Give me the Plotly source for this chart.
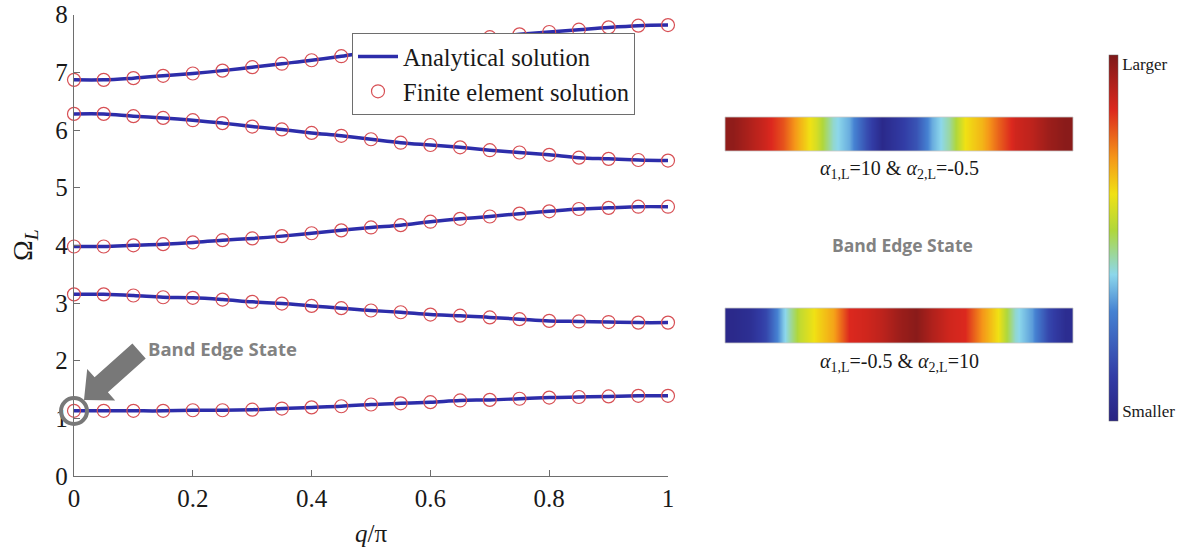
import plotly.graph_objects as go

W, H = 1187, 550

# ---------------- data ----------------
q = [0.0, 0.05, 0.1, 0.15, 0.2, 0.25, 0.3, 0.35, 0.4, 0.45, 0.5,
     0.55, 0.6, 0.65, 0.7, 0.75, 0.8, 0.85, 0.9, 0.95, 1.0]

band1 = [1.13, 1.13, 1.13, 1.13, 1.14, 1.14, 1.15, 1.17, 1.19, 1.21, 1.24,
         1.26, 1.28, 1.31, 1.32, 1.34, 1.36, 1.37, 1.38, 1.39, 1.39]
band2 = [3.15, 3.15, 3.13, 3.10, 3.09, 3.06, 3.02, 2.99, 2.95, 2.91, 2.87,
         2.84, 2.80, 2.78, 2.75, 2.72, 2.69, 2.68, 2.67, 2.66, 2.66]
band3 = [3.98, 3.98, 4.00, 4.02, 4.05, 4.09, 4.12, 4.16, 4.21, 4.26, 4.31,
         4.35, 4.41, 4.46, 4.50, 4.55, 4.59, 4.63, 4.65, 4.67, 4.67]
band4 = [6.28, 6.28, 6.24, 6.21, 6.17, 6.12, 6.06, 6.01, 5.95, 5.90, 5.84,
         5.78, 5.74, 5.70, 5.65, 5.61, 5.57, 5.52, 5.50, 5.48, 5.47]
band5 = [6.87, 6.87, 6.90, 6.94, 6.98, 7.03, 7.09, 7.15, 7.21, 7.28, 7.36,
         7.43, 7.50, 7.56, 7.61, 7.66, 7.70, 7.74, 7.78, 7.81, 7.82]
bands = [band1, band2, band3, band4, band5]

x_ticks = [0, 0.2, 0.4, 0.6, 0.8, 1]
x_tick_labels = ["0", "0.2", "0.4", "0.6", "0.8", "1"]
y_ticks = [0, 1, 2, 3, 4, 5, 6, 7, 8]
y_tick_labels = ["0", "1", "2", "3", "4", "5", "6", "7", "8"]

# normalised field amplitude along the unit cell
mode_a = [0.97, 0.92, 0.87, 0.80, 0.68, 0.58, 0.42, 0.35, 0.17, 0.03, 0.10,
          0.18, 0.35, 0.45, 0.62, 0.68, 0.78, 0.87, 0.90, 0.95, 0.98]
mode_b = [0.03, 0.06, 0.15, 0.38, 0.55, 0.63, 0.70, 0.85, 0.87, 0.90, 0.95,
          0.98, 0.92, 0.87, 0.85, 0.72, 0.62, 0.42, 0.33, 0.15, 0.05]
mode_pos = list(range(len(mode_a)))

jet = [[0.0, "rgb(40,35,130)"], [0.12, "rgb(50,60,165)"],
       [0.30, "rgb(70,130,210)"], [0.40, "rgb(140,215,235)"],
       [0.52, "rgb(175,215,60)"], [0.62, "rgb(240,225,20)"],
       [0.72, "rgb(245,150,25)"], [0.85, "rgb(220,40,30)"],
       [1.0, "rgb(125,25,25)"]]

SERIF = "Liberation Serif"
SANS = "Open Sans"
GRAY = "rgb(120,120,120)"
INK = "rgb(25,25,25)"

def px(x):
    return x / W

def py(y):
    return 1 - y / H

fig = go.Figure()

# analytical lines
for i, b in enumerate(bands):
    fig.add_trace(go.Scatter(
        x=q, y=b, mode="lines", line=dict(color="rgb(45,45,170)", width=3.5, shape="spline"),
        name="Analytical solution", legendgroup="a", showlegend=(i == 0),
        cliponaxis=False, xaxis="x", yaxis="y"))
# finite element markers
for i, b in enumerate(bands):
    fig.add_trace(go.Scatter(
        x=q, y=b, mode="markers",
        marker=dict(symbol="circle-open", size=13, color="rgb(215,80,85)", line=dict(width=1.2)),
        name="Finite element solution", legendgroup="f", showlegend=(i == 0),
        cliponaxis=False, xaxis="x", yaxis="y"))

# colour bars (mode shapes)
fig.add_trace(go.Heatmap(
    z=[mode_a, mode_a], x=mode_pos, zsmooth="best", colorscale=jet, zmin=0, zmax=1,
    xaxis="x2", yaxis="y2", showscale=True,
    colorbar=dict(x=px(1109), xanchor="left", y=py(237.5), yanchor="middle",
                  xpad=0, ypad=0,
                  len=366, lenmode="pixels", thickness=9, thicknessmode="pixels",
                  outlinewidth=0.5, outlinecolor="rgb(100,100,100)",
                  tickvals=[0.975, 0.025], ticktext=["Larger", "Smaller"],
                  ticks="", tickfont=dict(family=SERIF, size=17, color=INK))))
fig.add_trace(go.Heatmap(
    z=[mode_b, mode_b], x=mode_pos, zsmooth="best", colorscale=jet, zmin=0, zmax=1,
    xaxis="x3", yaxis="y3", showscale=False))

axis_common = dict(showgrid=False, zeroline=False, showline=True, linecolor="rgb(110,110,110)",
                   linewidth=1.3, ticks="inside", ticklen=6, tickcolor="rgb(110,110,110)",
                   automargin=False,
                   tickfont=dict(family=SERIF, size=25, color=INK))

hidden = dict(visible=False, showgrid=False, zeroline=False)

fig.update_layout(
    width=W, height=H, margin=dict(l=0, r=0, t=0, b=0, autoexpand=False),
    paper_bgcolor="white", plot_bgcolor="white",
    xaxis=dict(domain=[px(74), px(668)], range=[0, 1], tickvals=x_ticks, ticktext=x_tick_labels,
               anchor="y", **axis_common),
    yaxis=dict(domain=[py(476), py(14.7)], range=[0, 8], tickvals=y_ticks, ticktext=y_tick_labels,
               anchor="x", **axis_common),
    xaxis2=dict(domain=[px(725), px(1073)], anchor="y2", range=[-0.5, 20.5], **hidden),
    yaxis2=dict(domain=[py(151), py(117)], anchor="x2", range=[-0.5, 1.5], **hidden),
    xaxis3=dict(domain=[px(725), px(1073)], anchor="y3", range=[-0.5, 20.5], **hidden),
    yaxis3=dict(domain=[py(343), py(308)], anchor="x3", range=[-0.5, 1.5], **hidden),
    showlegend=True,
    legend=dict(x=px(352), y=py(33), xanchor="left", yanchor="top",
                bgcolor="white", bordercolor="rgb(110,110,110)", borderwidth=1,
                font=dict(family=SERIF, size=24.5, color=INK),
                tracegroupgap=0, itemwidth=40),
)

# axis titles
fig.add_annotation(text="<i>q</i>/π", x=px(371), y=py(533), xref="paper", yref="paper",
                   xanchor="center", yanchor="middle",
                   showarrow=False, font=dict(family=SERIF, size=25, color=INK))
fig.add_annotation(text="Ω<sub><i>L</i></sub>", x=px(24), y=py(245), xref="paper", yref="paper",
                   xanchor="center", yanchor="middle",
                   showarrow=False, textangle=-90, font=dict(family=SERIF, size=28, color=INK))

# right-hand captions
fig.add_annotation(text="<i>α</i><sub>1,L</sub>=10 &amp; <i>α</i><sub>2,L</sub>=-0.5",
                   x=px(899), y=py(169), xref="paper", yref="paper", showarrow=False,
                   xanchor="center", yanchor="middle",
                   font=dict(family=SERIF, size=20, color=INK))
fig.add_annotation(text="<i>α</i><sub>1,L</sub>=-0.5 &amp; <i>α</i><sub>2,L</sub>=10",
                   x=px(899), y=py(362), xref="paper", yref="paper", showarrow=False,
                   xanchor="center", yanchor="middle",
                   font=dict(family=SERIF, size=20, color=INK))
fig.add_annotation(text="<b>Band Edge State</b>", x=px(902), y=py(245), xref="paper", yref="paper",
                   xanchor="center", yanchor="middle",
                   showarrow=False, font=dict(family=SANS, size=17.5, color="rgb(130,130,130)"))
fig.add_annotation(text="<b>Band Edge State</b>", x=px(146), y=py(348), xref="paper", yref="paper",
                   xanchor="left", yanchor="middle",
                   showarrow=False, font=dict(family=SANS, size=18.5, color="rgb(130,130,130)"))

# band-edge marker circle and block arrow
fig.add_shape(type="circle", xref="paper", yref="paper",
              x0=px(74 - 13), x1=px(74 + 13), y0=py(411 + 13), y1=py(411 - 13),
              line=dict(color=GRAY, width=4), fillcolor="rgba(0,0,0,0)")
arrow_pts = [(132.4, 343.5), (94.6, 377.2), (87.2, 369.0), (84.0, 400.0),
             (115.2, 400.4), (107.9, 392.2), (145.7, 358.5)]
path = "M " + " L ".join(f"{px(a):.5f},{py(b):.5f}" for a, b in arrow_pts) + " Z"
fig.add_shape(type="path", path=path, xref="paper", yref="paper",
              fillcolor=GRAY, line=dict(width=0))

# light frames round the colour bars
for y0, y1 in [(117, 151), (308, 343)]:
    fig.add_shape(type="rect", xref="paper", yref="paper", x0=px(725), x1=px(1073),
                  y0=py(y1), y1=py(y0), line=dict(color="rgb(200,200,200)", width=0.8))

# remove the browser's default page margin so the figure fills the window
fig.write_html("out.html", config={"displayModeBar": False},
               post_script="document.body.style.margin='0px';")
